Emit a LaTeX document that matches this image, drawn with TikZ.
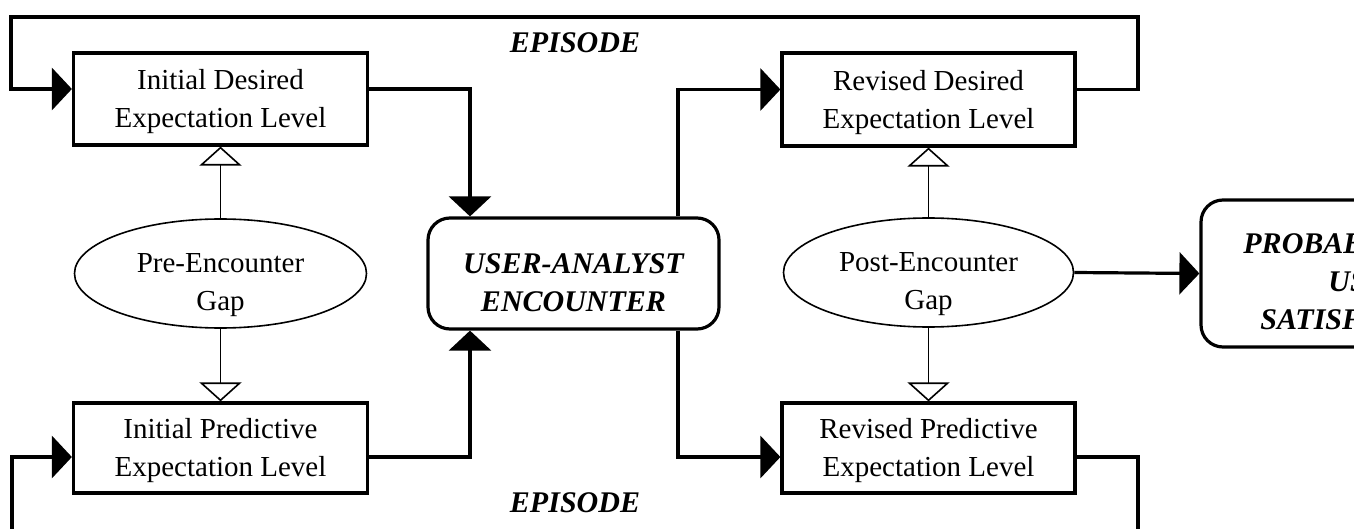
\documentclass[tikz,border=0pt]{standalone}
\usepackage{fontspec}
\setmainfont{Liberation Serif}
\usetikzlibrary{arrows.meta,shapes.geometric}
\begin{document}
\begin{tikzpicture}[x=0.5pt,y=-0.5pt,
  thickln/.style={line width=1.6pt},
  thinln/.style={line width=0.8pt},
  fillT/.tip={Triangle[length=10pt,width=21pt]},
  openT/.tip={Triangle[open,length=9.5pt,width=21pt]},
  lvlbox/.style={draw,thickln,rectangle,inner sep=0pt,minimum width=147pt},
  rbox/.style={draw,thickln,rectangle,rounded corners=11pt,inner sep=0pt},
  gap/.style={draw,thinln,ellipse,inner sep=0pt,minimum width=146pt,minimum height=54.5pt},
  reg/.style={align=center,inner sep=0pt,font=\fontsize{14.5}{19}\selectfont},
  bld/.style={align=center,inner sep=0pt,font=\fontsize{15}{19}\selectfont\bfseries\itshape},
]
\useasboundingbox (0,0) rectangle (1354,529);
\fill[white] (0,0) rectangle (1354,529);
\clip (0,0) rectangle (1354,529);

% boxes
\node[lvlbox,minimum height=46pt] (id) at (220.5,99) {};
\node[lvlbox,minimum height=45pt] (ip) at (220.5,448) {};
\node[lvlbox,minimum height=46.5pt,minimum width=146.5pt] (rd) at (928.5,99.5) {};
\node[lvlbox,minimum height=45pt,minimum width=146.5pt] (rp) at (928.5,448) {};
\node[rbox,minimum width=145.5pt,minimum height=55.5pt] (enc) at (573.5,273.5) {};
\node[rbox,minimum width=119.5pt,minimum height=73.5pt] (prob) at (1320.5,273.5) {};
\node[gap] (pre) at (220.5,273.5) {};
\node[gap,minimum width=145pt] (post) at (928.5,272.5) {};

% texts
\node[reg] (idt) at (220.5,102) {Initial Desired\\Expectation Level};
\node[reg] (ipt) at (220.5,451) {Initial Predictive\\Expectation Level};
\node[reg] (rdt) at (928.5,102.5) {Revised Desired\\Expectation Level};
\node[reg] (rpt) at (928.5,451) {Revised Predictive\\Expectation Level};
\node[reg] (pret) at (220.5,285.5) {Pre-Encounter\\Gap};
\node[reg] (postt) at (928.5,284.5) {Post-Encounter\\Gap};
\node[bld] (enct) at (573.5,283) {USER-ANALYST\\ENCOUNTER};
\node[bld,align=left,anchor=west] (probt) at (1243,281.5) {PROBABLE\\\hspace*{42.5pt}USER\\\hspace*{8.5pt}SATISFACTION};
\node[bld] (ep1) at (575,43) {EPISODE};
\node[bld] (ep2) at (575,503) {EPISODE};

% connector points
\coordinate (jl) at (470,0);
\coordinate (jr) at (678,0);
\coordinate (tl) at (11,17);
\coordinate (tr) at (1138,17);
\coordinate (bl) at (12,570);
\coordinate (br) at (1138,570);

% connectors
\draw[thickln,-{fillT}] ([yshift=5pt]rd.east) -| (tr) -- (tl) |- ([yshift=5pt]id.west);
\draw[thickln,-{fillT}] ([yshift=5pt]id.east) -| (jl |- enc.north);
\draw[thickln,-{fillT}] (jr |- enc.north) |- ([yshift=5pt]rd.west);
\draw[thickln,-{fillT}] ([yshift=-4.5pt]ip.east) -| (jl |- enc.south);
\draw[thickln,-{fillT}] (jr |- enc.south) |- ([yshift=-4.5pt]rp.west);
\draw[thickln,-{fillT}] ([yshift=-4.5pt]rp.east) -| (br) -- (bl) |- ([yshift=-4.5pt]ip.west);
\draw[thickln,-{fillT}] (post.east) -- (prob.west);
\draw[thinln,-{openT}] (pre.north) -- (id.south);
\draw[thinln,-{openT}] (pre.south) -- (ip.north);
\draw[thinln,-{openT}] (post.north) -- (rd.south);
\draw[thinln,-{openT}] (post.south) -- (rp.north);
\end{tikzpicture}
\end{document}
